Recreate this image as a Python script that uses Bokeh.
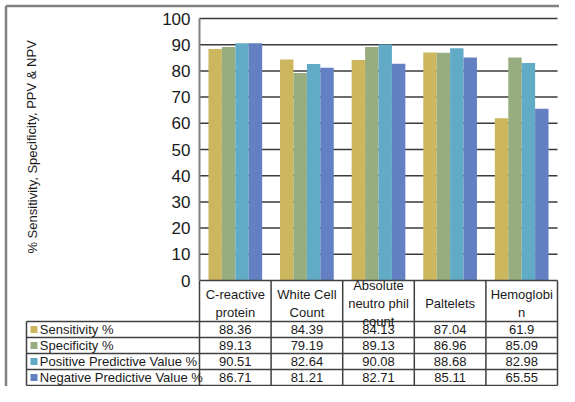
from bokeh.plotting import figure
from bokeh.models import Range1d, LinearAxis, FixedTicker
from bokeh.core.properties import value
from bokeh.embed import file_html
from bokeh.resources import INLINE

# ---------------- data ----------------
categories = ["C-reactive\nprotein", "White Cell\nCount", "Absolute\nneutro phil\ncount",
              "Paltelets", "Hemoglobi\nn"]
series_names = ["Sensitivity %", "Specificity %", "Positive Predictive Value %",
                "Negative Predictive Value %"]
sensitivity = [88.36, 84.39, 84.13, 87.04, 61.9]
specificity = [89.13, 79.19, 89.13, 86.96, 85.09]
ppv = [90.51, 82.64, 90.08, 88.68, 82.98]
npv = [86.71, 81.21, 82.71, 85.11, 65.55]
# bar heights as drawn in the picture (first NPV bar is drawn at the PPV height)
npv_bars = [90.51, 81.21, 82.71, 85.11, 65.55]
y_ticks = [0, 10, 20, 30, 40, 50, 60, 70, 80, 90, 100]
y_title = "% Sensitivity, Specificity, PPV & NPV"

colors = ["#CCB65E", "#98AD7F", "#62ABC6", "#6381C2"]
FONT = "Liberation Sans"

# ---------------- layout constants ----------------
W, H = 559, 386
SX = 71.6      # px per category
SY = 2.62      # px per value unit
AX = 199       # axis x (px from figure left)
ZY = 280       # zero line (px from figure top)
x0 = -AX / SX
x1 = x0 + W / SX
y1 = ZY / SY
y0 = y1 - H / SY
HDR = -15.65   # bottom of category header row
ROW = 6.1      # table row height (value units)
LEG_X = (26 - AX) / SX
n = len(categories)

p = figure(width=W, height=H, x_range=Range1d(x0, x1), y_range=Range1d(y0, y1),
           x_axis_type=None, y_axis_type=None, toolbar_location=None,
           output_backend="svg", min_border=0, outline_line_color=None,
           background_fill_color="white", border_fill_color="white")

# gridlines
grid_ticks = y_ticks[1:]
p.segment(x0=[0] * len(grid_ticks), y0=grid_ticks, x1=[n] * len(grid_ticks), y1=grid_ticks,
          line_color="#3a3a3a", line_width=1.5)

# bars
offsets = [-0.28125, -0.09375, 0.09375, 0.28125]
bar_series = [sensitivity, specificity, ppv, npv_bars]
for vals, off, col in zip(bar_series, offsets, colors):
    xs = [i + 0.5 + off for i in range(n)]
    p.vbar(x=xs, top=vals, bottom=0, width=0.1875, fill_color=col, line_color=None)

# y axis
yax = LinearAxis(ticker=FixedTicker(ticks=y_ticks), fixed_location=0, bounds=(0, 100),
                 axis_line_color="#808080", axis_line_width=2,
                 major_tick_in=0, major_tick_out=0, minor_tick_line_color=None,
                 major_label_text_font=FONT, major_label_text_font_size="17px",
                 major_label_standoff=9, major_label_text_color="#1a1a1a")
p.add_layout(yax, "left")

# y title
p.text(x=[(31.5 - AX) / SX], y=[51], text=[y_title], angle=1.5708,
       text_align="center", text_baseline="middle", text_font=value(FONT),
       text_font_size="13px", text_color="#1a1a1a")

# table lines
bottom = HDR - ROW * 4
tl = "#404040"
p.segment(x0=list(range(n + 1)), y0=[0] * (n + 1), x1=list(range(n + 1)), y1=[bottom] * (n + 1),
          line_color=tl, line_width=1.5)
p.segment(x0=[LEG_X], y0=[HDR], x1=[LEG_X], y1=[bottom], line_color=tl, line_width=1.5)
p.segment(x0=[0], y0=[0], x1=[n], y1=[0], line_color=tl, line_width=1.5)
hys = [HDR - ROW * r for r in range(5)]
p.segment(x0=[LEG_X] * 5, y0=hys, x1=[n] * 5, y1=hys, line_color=tl, line_width=1.5)

# category labels
p.text(x=[i + 0.5 for i in range(n)], y=[HDR / 2 - 0.8] * n, text=categories,
       text_align="center", text_baseline="middle", text_font=value(FONT),
       text_font_size="13px", text_color="#1a1a1a", text_line_height=1.2)

# table values and legend keys
table_rows = [sensitivity, specificity, ppv, npv]
for r, vals in enumerate(table_rows):
    yc = HDR - ROW * (r + 0.5)
    p.text(x=[i + 0.5 for i in range(n)], y=[yc] * n, text=[str(v) for v in vals],
           text_align="center", text_baseline="middle", text_font=value(FONT),
           text_font_size="13px", text_color="#1a1a1a")
    p.scatter(x=[(33.5 - AX) / SX], y=[yc], marker="square", size=7,
              fill_color=colors[r], line_color=None)
    p.text(x=[(39.3 - AX) / SX], y=[yc], text=[series_names[r]],
           text_align="left", text_baseline="middle", text_font=value(FONT),
           text_font_size="13px", text_color="#1a1a1a")

# outer border (left and top)
p.segment(x0=[(5.5 - AX) / SX], y0=[y0], x1=[(5.5 - AX) / SX], y1=[y1 - 5.5 / SY],
          line_color="#808080", line_width=2.5)
p.segment(x0=[(5.5 - AX) / SX], y0=[y1 - 5.5 / SY], x1=[x1], y1=[y1 - 5.5 / SY],
          line_color="#808080", line_width=2.5)

open("out.html", "w").write(file_html(p, INLINE))
